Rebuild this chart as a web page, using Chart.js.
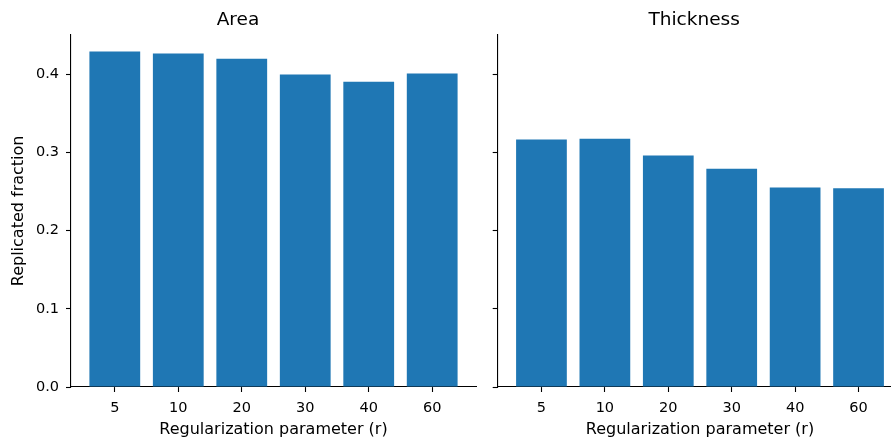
<!DOCTYPE html>
<html>
<head>
<meta charset="utf-8">
<script src="https://cdn.jsdelivr.net/npm/chart.js@4.4.0/dist/chart.umd.min.js"></script>
<style>
  html, body { margin: 0; padding: 0; background: #fff; overflow: hidden; width: 891px; height: 441px; position: relative; }
  canvas { position: absolute; top: 0; }
  #cL { left: 0; }
  #cR { left: 486px; }
</style>
</head>
<body>
<canvas id="cL" width="547" height="441"></canvas>
<canvas id="cR" width="428" height="441"></canvas>
<script>
const categories = ['5', '10', '20', '30', '40', '60'];
const areaValues = [0.429, 0.4265, 0.420, 0.3996, 0.3906, 0.401];
const thicknessValues = [0.3167, 0.3175, 0.2962, 0.2791, 0.2551, 0.2543];
const yTicks = [0.0, 0.1, 0.2, 0.3, 0.4];
const panelTitles = ['Area', 'Thickness'];
const xTitle = 'Regularization parameter (r)';
const yTitle = 'Replicated fraction';

const FONT = "'DejaVu Sans', sans-serif";
const BLUE = '#1f77b4';
Chart.defaults.font.family = FONT;
Chart.defaults.color = '#000';

function makeChart(id, title, values, showYLabels, yWidth, padRight) {
  return new Chart(document.getElementById(id), {
    type: 'bar',
    data: {
      datasets: [{
        data: categories.map((c, i) => ({ x: i, y: values[i] })),
        backgroundColor: BLUE,
        borderWidth: 0,
        categoryPercentage: 1.0,
        barPercentage: 0.8
      }]
    },
    options: {
      responsive: false,
      maintainAspectRatio: false,
      animation: false,
      devicePixelRatio: 1,
      layout: { padding: { left: 0, right: padRight, top: 0, bottom: 0 } },
      plugins: {
        legend: { display: false },
        tooltip: { enabled: false },
        title: {
          display: true,
          text: title,
          font: { size: 18.5, weight: 'normal', family: FONT },
          color: '#000',
          padding: { top: 9, bottom: 3.6 }
        }
      },
      scales: {
        x: {
          type: 'linear',
          offset: false,
          min: -0.69,
          max: 5.69,
          afterBuildTicks: (s) => { s.ticks = categories.map((c, i) => ({ value: i })); },
          afterFit: (s) => { s.height = 54; },
          ticks: {
            callback: (v) => categories[v],
            font: { size: 14.5, family: FONT },
            color: '#000',
            padding: 8,
            maxRotation: 0,
            autoSkip: false
          },
          grid: { display: true, offset: false, drawOnChartArea: false, drawTicks: true, tickLength: 5, color: '#000', tickWidth: 1.1 },
          border: { display: true, color: '#000', width: 1.1 },
          title: {
            display: true,
            text: xTitle,
            font: { size: 16, family: FONT },
            color: '#000',
            padding: { top: 0, bottom: 2 }
          }
        },
        y: {
          type: 'linear',
          min: 0,
          max: 0.4505,
          afterBuildTicks: (s) => { s.ticks = yTicks.map(v => ({ value: v })); },
          afterFit: (s) => { s.width = yWidth; },
          ticks: {
            display: true,
            callback: (v) => showYLabels ? v.toFixed(1) : '',
            font: { size: 14.5, family: FONT },
            color: '#000',
            padding: 7
          },
          grid: { display: true, drawOnChartArea: false, drawTicks: true, tickLength: 5, color: '#000', tickWidth: 1.1 },
          border: { display: true, color: '#000', width: 1.1 },
          title: {
            display: showYLabels,
            text: yTitle,
            font: { size: 16, family: FONT },
            color: '#000',
            padding: { top: 9.4, bottom: 0 }
          }
        }
      }
    }
  });
}

makeChart('cL', panelTitles[0], areaValues, true, 71, 71);
makeChart('cR', panelTitles[1], thicknessValues, false, 11.7, 11.7);
</script>
</body>
</html>
